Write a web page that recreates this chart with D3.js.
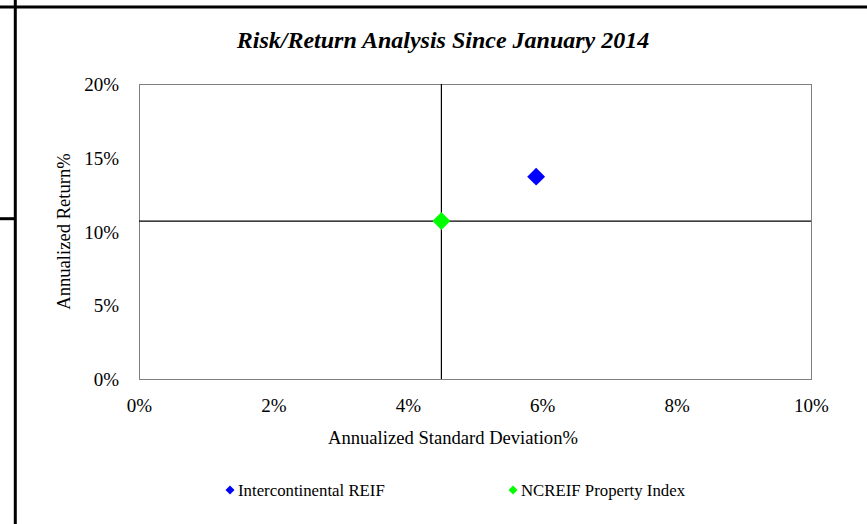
<!DOCTYPE html>
<html>
<head>
<meta charset="utf-8">
<script src="https://cdn.jsdelivr.net/npm/d3@7"></script>
<style>
  html, body { margin: 0; padding: 0; background: #fff; }
  svg { display: block; font-family: "Liberation Serif", "Times New Roman", serif; }
</style>
</head>
<body>
<svg id="chart" width="867" height="524"></svg>
<script>
// Series: annualized standard deviation (%) and annualized return (%)
const seriesNames = ["Intercontinental REIF", "NCREIF Property Index"];
const seriesColors = ["#0000ff", "#00ff00"];
const riskValues = [5.91, 4.50];
const returnValues = [13.72, 10.71];

// Axis ticks
const xTicks = [0, 2, 4, 6, 8, 10];
const yTicks = [0, 5, 10, 15, 20];

// The benchmark (NCREIF) defines the quadrant crosshair
const benchmarkIndex = 1;

const svg = d3.select("#chart");
const W = 867, H = 524;
const plot = { left: 139, top: 84, right: 811, bottom: 379 };

const x = d3.scaleLinear().domain([0, 10]).range([plot.left, plot.right]);
const y = d3.scaleLinear().domain([0, 20]).range([plot.bottom, plot.top]);

// Page frame rules
svg.append("line").attr("x1", 0).attr("x2", W).attr("y1", 7).attr("y2", 7)
  .attr("stroke", "#000").attr("stroke-width", 3);
svg.append("line").attr("x1", 15.3).attr("x2", 15.3).attr("y1", 0).attr("y2", H)
  .attr("stroke", "#000").attr("stroke-width", 3);
svg.append("line").attr("x1", 0).attr("x2", 15).attr("y1", 218.7).attr("y2", 218.7)
  .attr("stroke", "#000").attr("stroke-width", 3);

// Title
svg.append("text")
  .attr("x", 443).attr("y", 48)
  .attr("text-anchor", "middle")
  .attr("font-size", 24).attr("font-weight", "bold").attr("font-style", "italic")
  .text("Risk/Return Analysis Since January 2014");

// Plot area border
svg.append("rect")
  .attr("x", plot.left + 0.5).attr("y", plot.top + 0.5)
  .attr("width", plot.right - plot.left).attr("height", plot.bottom - plot.top)
  .attr("fill", "none").attr("stroke", "#808080").attr("stroke-width", 1);

// X axis labels
const xAxis = d3.axisBottom(x).tickValues(xTicks).tickSize(0).tickPadding(0)
  .tickFormat(d => d + "%");
const gx = svg.append("g").attr("transform", `translate(0,${plot.bottom})`).call(xAxis);
gx.select(".domain").remove();
gx.selectAll("text").attr("font-size", 19).attr("font-family", "Liberation Serif, serif")
  .attr("fill", "#000").attr("dy", null).attr("y", 33);

// Y axis labels
const yAxis = d3.axisLeft(y).tickValues(yTicks).tickSize(0).tickPadding(0)
  .tickFormat(d => d + "%");
const gy = svg.append("g").attr("transform", `translate(${plot.left - 20},0)`).call(yAxis);
gy.select(".domain").remove();
gy.selectAll("text").attr("font-size", 19).attr("font-family", "Liberation Serif, serif")
  .attr("fill", "#000").attr("x", 0).attr("dy", "0.35em");

// Axis titles
svg.append("text")
  .attr("x", 453).attr("y", 444)
  .attr("text-anchor", "middle").attr("font-size", 18.6)
  .text("Annualized Standard Deviation%");
svg.append("text")
  .attr("transform", `translate(70,${(plot.top + plot.bottom) / 2}) rotate(-90)`)
  .attr("text-anchor", "middle").attr("font-size", 18.6)
  .text("Annualized Return%");

// Crosshair through the benchmark
const bx = x(riskValues[benchmarkIndex]);
const by = y(returnValues[benchmarkIndex]);
svg.append("line").attr("x1", bx).attr("x2", bx).attr("y1", plot.top).attr("y2", plot.bottom)
  .attr("stroke", "#000").attr("stroke-width", 1.2);
svg.append("line").attr("x1", plot.left).attr("x2", plot.right).attr("y1", by).attr("y2", by)
  .attr("stroke", "#000").attr("stroke-width", 1.2);

// Points
const diamond = d3.symbol().type(d3.symbolSquare).size(160);
svg.append("g").selectAll("path")
  .data(seriesNames.map((n, i) => ({ name: n, risk: riskValues[i], ret: returnValues[i], color: seriesColors[i] })))
  .join("path")
  .attr("d", diamond)
  .attr("transform", d => `translate(${x(d.risk)},${y(d.ret)}) rotate(45)`)
  .attr("fill", d => d.color);

// Legend
const legendX = [230, 513];
const legend = svg.append("g").selectAll("g")
  .data(seriesNames)
  .join("g")
  .attr("transform", (d, i) => `translate(${legendX[i]},490)`);
legend.append("path")
  .attr("d", d3.symbol().type(d3.symbolSquare).size(40))
  .attr("transform", "rotate(45)")
  .attr("fill", (d, i) => seriesColors[i]);
legend.append("text")
  .attr("x", 8).attr("y", 5.5)
  .attr("font-size", 16.8)
  .text(d => d);
</script>
</body>
</html>
